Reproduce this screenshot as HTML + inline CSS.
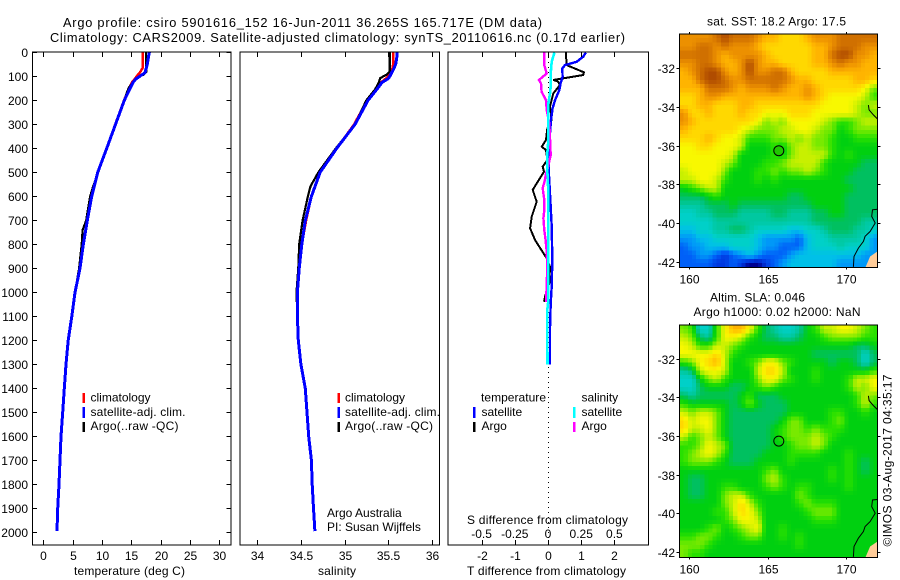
<!DOCTYPE html>
<html>
<head>
<meta charset="utf-8">
<title>Argo profile</title>
<style>
html,body{margin:0;padding:0;background:#fff;}
svg{display:block;}
text{font-family:"Liberation Sans",sans-serif;font-size:12px;fill:#000;}
text.title{font-size:12.8px;}
</style>
</head>
<body>
<svg id="fig" xmlns="http://www.w3.org/2000/svg" width="900" height="580" viewBox="0 0 900 580">
<defs>
<clipPath id="clip-sst"><rect x="679.5" y="34" width="198" height="233.3"/></clipPath>
<clipPath id="clip-sla"><rect x="679.5" y="325" width="198" height="232.3"/></clipPath>
</defs>
<text class="title" x="63" y="27" textLength="479">Argo profile: csiro 5901616_152 16-Jun-2011 36.265S 165.717E (DM data)</text>
<text class="title" x="50" y="42" textLength="575">Climatology: CARS2009. Satellite-adjusted climatology: synTS_20110616.nc (0.17d earlier)</text>

<text x="74" y="575" textLength="111">temperature (deg C)</text>
<text x="318" y="575" textLength="38">salinity</text>
<text x="467" y="575" textLength="159">T difference from climatology</text>
<text x="467" y="524" textLength="161">S difference from climatology</text>

<g>
<rect x="82.5" y="393" width="2.5" height="10" fill="#ff0000"/>
<rect x="82.5" y="407" width="2.5" height="11" fill="#0000ff"/>
<rect x="82.5" y="422" width="2.5" height="10" fill="#000"/>
<text x="90.5" y="401.5">climatology</text>
<text x="90.5" y="416" textLength="95">satellite-adj. clim.</text>
<text x="90.5" y="430" textLength="88">Argo(..raw -QC)</text>
</g>
<g>
<rect x="337.5" y="393" width="2.5" height="10" fill="#ff0000"/>
<rect x="337.5" y="407" width="2.5" height="11" fill="#0000ff"/>
<rect x="337.5" y="422" width="2.5" height="10" fill="#000"/>
<text x="345" y="401.5">climatology</text>
<text x="345" y="416" textLength="95">satellite-adj. clim.</text>
<text x="345" y="430" textLength="88">Argo(..raw -QC)</text>
<text x="327" y="517">Argo Australia</text>
<text x="327" y="531">PI: Susan Wijffels</text>
</g>
<g>
<text x="481" y="401.5" textLength="65">temperature</text>
<text x="581.5" y="401.5">salinity</text>
<rect x="473" y="407" width="2.5" height="11" fill="#0000ff"/>
<rect x="473" y="422" width="2.5" height="10" fill="#000"/>
<rect x="573" y="407" width="2.5" height="11" fill="#00ffff"/>
<rect x="573" y="422" width="2.5" height="10" fill="#ff00ff"/>
<text x="481.5" y="416">satellite</text>
<text x="481.5" y="430">Argo</text>
<text x="581.5" y="416">satellite</text>
<text x="581.5" y="430">Argo</text>
</g>

<text x="707" y="25.5" textLength="139">sat. SST: 18.2 Argo: 17.5</text>
<text x="710" y="301.5" textLength="95">Altim. SLA: 0.046</text>
<text x="693.5" y="316" textLength="167">Argo h1000: 0.02 h2000: NaN</text>
<text transform="translate(891.5 546.5) rotate(-90)" textLength="172">©IMOS 03-Aug-2017 04:35:17</text>
</svg>
<script>
/* ---------- profile data ---------- */
const tempDepths = [0,20,45,65,85,100,110,125,150,200,300,400,500,600,700,800,900,1000,1100,1200,1300,1400,1500,1600,1700,1800,1900,1995];
const tempClim = [16.93,16.93,16.93,16.93,16.4,15.9,15.6,15.1,14.6,13.75,12.25,10.8,9.3,8.28,7.48,6.8,6.22,5.38,4.82,4.23,3.85,3.56,3.29,3.01,2.84,2.66,2.44,2.32];
const tempSat = [18.06,17.9,17.75,17.55,17.3,16.4,15.8,15.3,14.77,13.8,12.3,10.8,9.26,8.24,7.5,6.82,6.25,5.4,4.85,4.25,3.87,3.58,3.3,3.02,2.85,2.67,2.45,2.33];
const argoTempDepths = [0,40,80,93,103,120,150,200,300,400,500,558,600,700,740,800,900,1000,1040];
const argoTemp = [17.5,17.5,17.6,17.1,16.05,15.4,14.5,13.8,12.3,10.8,9.35,8.5,7.97,7.3,6.7,6.55,6.1,5.4,5.2];

const salClim = [35.56,35.56,35.56,35.55,35.53,35.5,35.47,35.42,35.37,35.26,35.11,34.91,34.72,34.62,34.56,34.51,34.48,34.46,34.46,34.47,34.5,34.55,34.57,34.59,34.62,34.63,34.645,34.66];
const salSat = [35.6,35.6,35.59,35.57,35.54,35.52,35.5,35.43,35.38,35.27,35.12,34.91,34.72,34.62,34.55,34.51,34.48,34.46,34.46,34.47,34.5,34.55,34.57,34.59,34.62,34.63,34.645,34.66];
const argoSalDepths = [0,40,80,93,107,128,155,200,300,400,500,558,600,700,800,900,1000,1040];
const argoSal = [35.52,35.52,35.52,35.48,35.41,35.39,35.35,35.25,35.12,34.9,34.7,34.61,34.58,34.52,34.48,34.47,34.45,34.45];

const diffTArgoDepths = [1,53,83,94,115,122,136,171,226,282,317,365,393,407,428,449,476,497,546,573,622,684,733,782,858,893,962,1018,1039];
const diffTArgo = [.54,.56,1.08,1.06,.16,.31,.36,.16,.06,.11,-.02,-.06,-.19,-.06,-.04,-.02,-.16,-.12,-.34,-.46,-.34,-.49,-.54,-.39,-.04,.06,.04,-.09,-.12];
const diffTSatDepths = [1,18,39,53,67,101,129,157,199,233,282,337,407,490,643,726,865,976,1045,1150,1300];
const diffTSat = [1.14,1.06,.86,.51,.43,.44,.38,.34,.21,.14,.09,.06,.02,.02,.08,.11,.13,.11,.08,.06,.06];
const diffSArgoDepths = [1,53,88,115,129,164,199,240,296,358,428,490,504,532,566,615,657,691,740,782,830,893,969,1039];
const diffSArgo = [-.028,-.028,-.01,-.068,-.053,-.048,-.015,-.01,.01,.015,.02,-.005,-.015,-.023,-.04,-.028,-.028,-.035,-.028,-.018,-.01,-.005,-.01,-.015];
const diffSSatDepths = [1,39,88,143,171,212,365,421,490,587,865,1032,1073,1300];
const diffSSat = [.048,.028,.02,.02,.015,.003,.003,-.005,-.005,.003,.003,.003,-.005,-.004];

/* ---------- tick labels ---------- */
const depthTicks = [0,100,200,300,400,500,600,700,800,900,1000,1100,1200,1300,1400,1500,1600,1700,1800,1900,2000];
const tempTicks = [0,5,10,15,20,25,30];
const salTicks = [34,34.5,35,35.5,36];
const salTickLabels = ["34","34.5","35","35.5","36"];
const tDiffTicks = [-2,-1,0,1,2];
const sDiffTicks = [-0.5,-0.25,0,0.25,0.5];
const sDiffTickLabels = ["-0.5","-0.25","0","0.25","0.5"];
const lonTicks = [160,165,170];
const latTicks = [-32,-34,-36,-38,-40,-42];

/* ---------- map data (colour level per grid cell) ---------- */
const mapLevels = ["#000090","#0038e0","#0060f8","#0098f8","#00c0e8","#00d0c8","#00c8a0","#00c060","#00d010","#28e000","#78ea00","#c8f000","#f8f800","#ffd800","#ffb400","#ec9000","#d07000","#b04c00","#a00000"];
const sstRows = [
[15,15,15,15,16,17,16,16,16,15,14,14,13,13,13,14,15,15,15,16,16,16,16,16],
[15,15,16,16,15,16,15,15,15,14,13,13,13,13,13,13,14,14,15,16,16,16,15,15],
[16,16,16,16,15,14,15,15,15,15,14,13,13,13,13,13,14,14,16,17,17,15,15,14],
[15,15,16,16,15,14,14,15,17,15,14,14,13,13,13,13,14,14,15,16,15,15,14,14],
[14,15,16,17,17,15,14,15,17,15,15,16,16,14,13,13,13,13,14,14,14,14,14,14],
[14,14,16,17,17,16,15,15,16,16,16,16,16,15,14,14,13,13,13,13,13,14,14,13],
[14,14,14,16,16,16,15,14,15,15,15,16,15,14,14,15,14,13,13,13,13,13,12,10],
[13,13,14,15,15,14,14,14,14,14,14,14,14,14,14,15,14,13,12,12,12,12,11,9],
[13,13,14,14,13,13,13,14,14,13,13,13,13,13,13,13,13,12,12,12,12,11,10,11],
[15,13,13,14,13,13,13,14,13,13,12,12,12,13,13,13,12,12,12,12,12,11,10,10],
[15,14,13,13,13,13,13,13,13,12,10,11,10,12,12,12,12,11,10,9,9,10,11,11],
[14,13,13,13,13,13,13,12,11,10,10,10,11,11,12,12,11,10,10,8,9,10,10,10],
[13,13,13,14,13,12,12,11,9,9,9,10,10,11,10,11,10,10,9,8,8,9,9,9],
[12,12,13,13,12,12,12,11,8,8,8,9,8,10,11,11,10,10,9,8,8,8,8,8],
[12,12,12,12,12,12,11,8,8,8,8,9,8,10,11,11,11,11,9,8,9,8,8,8],
[12,12,12,12,12,11,10,8,8,8,9,9,10,11,11,11,11,9,8,8,8,8,7,7],
[11,12,12,12,12,10,8,8,8,9,9,10,9,10,10,11,10,9,8,8,8,7,7,7],
[11,11,12,12,11,9,8,8,8,9,8,9,8,8,8,8,8,8,8,8,7,7,7,7],
[8,9,10,11,11,8,8,8,8,8,8,8,8,8,8,8,8,8,8,8,8,7,7,7],
[7,7,7,8,9,8,8,8,8,8,8,8,8,7,7,8,8,8,8,8,7,7,7,7],
[6,6,6,7,7,7,8,7,7,7,7,7,7,7,7,7,8,8,8,8,7,7,7,7],
[5,5,6,6,7,7,7,6,6,6,6,7,7,6,6,6,7,7,8,8,7,7,7,7],
[5,5,5,5,6,6,6,6,6,6,6,6,6,6,6,6,7,7,7,7,7,7,6,6],
[4,4,5,5,6,6,7,7,6,5,5,5,5,4,4,5,5,6,7,7,7,6,6,5],
[3,3,4,4,5,5,5,5,5,4,3,3,3,3,2,4,5,5,6,6,6,6,5,3],
[2,3,3,4,4,4,5,5,5,4,3,3,2,2,2,4,5,5,5,6,5,5,5,3],
[2,2,3,3,2,1,2,3,4,3,2,2,2,3,4,4,4,4,4,4,4,4,3,3],
[2,2,2,2,1,1,2,1,0,0,1,2,3,4,4,4,4,4,4,3,3,3,3,3]
];
const slaRows = [
[10,9,5,5,9,12,14,14,12,9,7,6,5,5,6,8,9,11,11,12,12,11,10,9],
[11,10,7,6,9,12,12,11,9,8,7,7,6,6,7,8,8,9,10,10,10,10,9,9],
[12,11,9,9,11,11,10,9,8,8,8,8,8,8,8,8,8,8,8,8,8,7,7,8],
[12,12,12,12,13,11,9,8,8,8,8,8,8,8,8,8,7,7,7,7,7,7,5,7],
[9,10,12,13,14,11,8,8,9,10,12,12,10,9,8,8,8,8,7,8,8,7,5,7],
[6,7,11,12,12,11,8,8,8,11,13,13,11,8,8,8,9,8,8,8,8,8,8,9],
[5,5,8,10,11,9,8,8,8,10,12,12,10,9,8,8,9,8,8,8,9,11,11,12],
[5,5,7,8,8,8,7,7,8,9,10,9,8,8,8,8,8,8,8,8,9,11,10,12],
[7,6,7,7,7,7,7,8,9,7,7,7,8,8,8,8,8,8,8,8,8,9,11,10],
[9,8,8,8,8,8,7,8,10,8,7,7,7,8,8,8,8,8,8,8,8,9,11,9],
[11,10,11,11,10,8,7,7,7,7,7,7,7,8,8,8,8,8,9,9,8,8,9,8],
[13,11,12,12,10,8,7,7,7,7,7,7,8,10,10,8,8,8,9,10,8,8,8,8],
[13,11,11,12,10,8,7,7,7,7,7,8,9,10,10,9,10,9,9,9,8,8,8,8],
[11,9,10,11,10,8,7,7,7,7,7,8,9,10,10,10,11,10,9,8,8,8,8,8],
[9,9,10,12,11,10,7,7,7,7,7,8,8,9,10,10,11,10,8,8,8,8,8,8],
[9,10,11,12,11,9,7,7,7,7,8,8,8,9,9,9,9,8,8,8,9,8,8,8],
[9,10,10,10,9,8,7,7,7,8,8,8,8,9,8,8,8,8,8,8,9,8,7,8],
[8,8,8,8,8,8,8,8,8,8,9,10,8,8,8,8,8,8,9,8,9,8,7,8],
[8,7,7,8,8,8,8,8,8,8,10,11,9,8,8,8,8,8,9,8,9,8,8,8],
[8,7,7,8,8,9,9,8,8,8,9,10,9,8,9,9,8,8,8,8,9,8,8,8],
[8,7,7,8,8,10,11,11,9,8,8,8,8,8,10,9,8,8,8,8,8,8,8,8],
[8,8,8,8,8,10,11,13,11,9,8,8,8,8,9,10,9,9,9,8,8,8,8,8],
[8,8,8,8,9,9,11,13,12,10,8,8,8,8,8,9,10,10,10,8,8,8,8,8],
[8,8,8,8,8,9,10,12,12,11,8,8,8,8,8,8,9,9,9,8,8,8,8,8],
[8,8,8,9,10,8,9,10,11,12,8,8,9,8,8,8,8,8,8,8,8,8,8,8],
[9,9,10,10,9,8,8,9,10,10,8,8,9,8,9,8,8,8,8,8,8,8,8,8],
[10,10,10,9,8,8,8,8,8,8,8,8,8,8,9,8,8,8,8,8,8,8,8,8],
[10,9,9,8,8,8,8,8,8,8,8,8,8,8,8,8,8,8,8,8,8,8,8,8]
];
const coastWestLon = [170.49,170.53,170.81,171.13,171.24,171.56,171.88,171.66,171.71,172.03];
const coastWestLat = [-42.27,-41.73,-41.30,-40.95,-40.69,-40.44,-40.0,-39.66,-39.32,-39.29];
const coastNorthLon = [171.45,171.49,171.77,172.03];
const coastNorthLat = [-33.91,-34.16,-34.42,-34.63];
const landLon = [171.26,171.56,172.03,172.03];
const landLat = [-42.29,-41.73,-41.47,-42.29];
const argoLon = 165.717;
const argoLat = -36.265;

/* ---------- helpers ---------- */
const svg = document.getElementById('fig');
const NS = 'http://www.w3.org/2000/svg';
function mk(tag, attrs, parent) {
  const el = document.createElementNS(NS, tag);
  for (const k in attrs) el.setAttribute(k, attrs[k]);
  (parent || svg).appendChild(el);
  return el;
}
const yD = d => 52.4 + 0.24 * d;
const xTemp = t => 43.3 + 5.87 * t;
const xSal = s => 257.3 + 87.2 * (s - 34);
const xDT = t => 548 + 33.2 * t;
const xDS = s => 548 + 132.8 * s;

function profile(name, depths, vals, xf, color, width, parent) {
  const pts = vals.map((v, i) => xf(v).toFixed(1) + ',' + yD(depths[i]).toFixed(1)).join(' ');
  const el = mk('polyline', {points: pts, fill: 'none', stroke: color, 'stroke-width': width, 'stroke-linejoin': 'miter', 'shape-rendering': 'crispEdges'}, parent);
  
  
}
function line(x1, y1, x2, y2, parent) {
  const el = mk('line', {x1, y1, x2, y2, stroke: '#000', 'stroke-width': 1, 'shape-rendering': 'crispEdges'}, parent);
  
  
}
function label(txt, x, y, anchor, parent) {
  const el = mk('text', {x, y, 'text-anchor': anchor}, parent);
  el.textContent = txt;
  
  
}
function frame(name, x, y, w, h) {
  const el = mk('rect', {x, y, width: w, height: h, fill: 'none', stroke: '#000', 'stroke-width': 1, 'shape-rendering': 'crispEdges'});
  
  
}
function hexRgb(h) {
  return [parseInt(h.slice(1, 3), 16), parseInt(h.slice(3, 5), 16), parseInt(h.slice(5, 7), 16)];
}
function levelColor(v) {
  const c = Math.max(0, Math.min(mapLevels.length - 1, v));
  const a = Math.floor(c), b = Math.min(mapLevels.length - 1, a + 1), t = c - a;
  const ca = hexRgb(mapLevels[a]), cb = hexRgb(mapLevels[b]);
  return 'rgb(' + ca.map((x, i) => Math.round(x + (cb[i] - x) * t)).join(',') + ')';
}

/* ---------- temperature panel ---------- */
const TOP = 52, BOT = 545;
const p1 = mk('g', {});


profile('temperature-climatology-line', tempDepths, tempClim, xTemp, '#ff0000', 2.5, p1);
profile('temperature-argo-line', argoTempDepths, argoTemp, xTemp, '#000', 2.2, p1);
profile('temperature-satellite-line', tempDepths, tempSat, xTemp, '#0000ff', 3, p1);
frame('temperature-panel-frame', 32.5, TOP, 198.5, BOT - TOP);
depthTicks.forEach(d => {
  const y = Math.round(yD(d)) + 0.5;
  line(32.5, y, 37, y, p1);
  line(226.5, y, 231, y, p1);
  label(String(d), 28, y + 4.5, 'end', p1);
});
tempTicks.forEach(t => {
  const x = Math.round(xTemp(t)) + 0.5;
  line(x, TOP, x, TOP + 5, p1);
  line(x, BOT - 5, x, BOT, p1);
  label(String(t), x, 560, 'middle', p1);
});

/* ---------- salinity panel ---------- */
const p2 = mk('g', {});


profile('salinity-climatology-line', tempDepths, salClim, xSal, '#ff0000', 2.5, p2);
profile('salinity-argo-line', argoSalDepths, argoSal, xSal, '#000', 2.2, p2);
profile('salinity-satellite-line', tempDepths, salSat, xSal, '#0000ff', 3, p2);
frame('salinity-panel-frame', 240, TOP, 199.5, BOT - TOP);
salTicks.forEach((s, i) => {
  const x = Math.round(xSal(s)) + 0.5;
  line(x, TOP, x, TOP + 5, p2);
  line(x, BOT - 5, x, BOT, p2);
  label(salTickLabels[i], x, 560, 'middle', p2);
});

/* ---------- difference panel ---------- */
const p3 = mk('g', {});


const zero = mk('line', {x1: 548.5, y1: TOP, x2: 548.5, y2: BOT, stroke: '#000', 'stroke-width': 1, 'stroke-dasharray': '1 4', 'shape-rendering': 'crispEdges'}, p3);


profile('t-difference-argo-line', diffTArgoDepths, diffTArgo, xDT, '#000', 2, p3);
profile('t-difference-satellite-line', diffTSatDepths, diffTSat, xDT, '#0000ff', 2.4, p3);
profile('s-difference-argo-line', diffSArgoDepths, diffSArgo, xDS, '#ff00ff', 2.4, p3);
profile('s-difference-satellite-line', diffSSatDepths, diffSSat, xDS, '#00ffff', 2.6, p3);
frame('difference-panel-frame', 448, TOP, 200.5, BOT - TOP);
tDiffTicks.forEach(t => {
  const x = Math.round(xDT(t)) + 0.5;
  line(x, TOP, x, TOP + 5, p3);
  line(x, BOT - 5, x, BOT, p3);
  label(String(t), x, 560, 'middle', p3);
});
sDiffTicks.forEach((s, i) => {
  label(sDiffTickLabels[i], xDS(s), 538, 'middle', p3);
});

/* ---------- maps ---------- */
function drawMap(name, rows, clipId, top, bottom, filled) {
  const left = 679.5, right = 877.5;
  const lonL = 159.37, lonR = 172.03, latT = -30.24, latB = -42.29;
  const xLon = v => left + (v - lonL) / (lonR - lonL) * (right - left);
  const yLat = v => top + (v - latT) / (latB - latT) * (bottom - top);
  const g = mk('g', {});
  
  
  const cells = mk('g', {'shape-rendering': 'crispEdges', 'clip-path': 'url(#' + clipId + ')'}, g);
  const nr = rows.length, nc = rows[0].length;
  const cw = (right - left) / nc / 2, ch = (bottom - top) / nr / 2;
  const at = (r, c) => {
    const row = rows[Math.max(0, Math.min(nr - 1, r))];
    return row[Math.max(0, Math.min(row.length - 1, c))];
  };
  for (let j = 0; j < nr * 2; j++) {
    for (let i = 0; i < nc * 2; i++) {
      const fy = (j - 0.5) / 2, fx = (i - 0.5) / 2;
      const r0 = Math.floor(fy), c0 = Math.floor(fx);
      const ty = fy - r0, tx = fx - c0;
      const v = at(r0, c0) * (1 - tx) * (1 - ty) + at(r0, c0 + 1) * tx * (1 - ty) + at(r0 + 1, c0) * (1 - tx) * ty + at(r0 + 1, c0 + 1) * tx * ty;
      const cell = mk('rect', {x: (left + i * cw).toFixed(2), y: (top + j * ch).toFixed(2), width: (cw + 0.5).toFixed(2), height: (ch + 0.5).toFixed(2), fill: levelColor(v)}, cells);
      
      
    }
  }
  const land = mk('polygon', {points: landLon.map((v, i) => xLon(v).toFixed(1) + ',' + yLat(landLat[i]).toFixed(1)).join(' '), fill: '#ffcc99', 'clip-path': 'url(#' + clipId + ')'}, g);
  
  
  const cw1 = mk('polyline', {points: coastWestLon.map((v, i) => xLon(v).toFixed(1) + ',' + yLat(coastWestLat[i]).toFixed(1)).join(' '), fill: 'none', stroke: '#000', 'stroke-width': 1, 'clip-path': 'url(#' + clipId + ')'}, g);
  
  
  const cw2 = mk('polyline', {points: coastNorthLon.map((v, i) => xLon(v).toFixed(1) + ',' + yLat(coastNorthLat[i]).toFixed(1)).join(' '), fill: 'none', stroke: '#000', 'stroke-width': 1, 'clip-path': 'url(#' + clipId + ')'}, g);
  
  
  const marker = mk('circle', {cx: xLon(argoLon).toFixed(1), cy: yLat(argoLat).toFixed(1), r: 5, fill: filled, stroke: '#000', 'stroke-width': 1}, g);
  
  
  frame(name + '-frame', left, top, right - left, bottom - top);
  lonTicks.forEach(v => {
    const x = Math.round(xLon(v)) + 0.5;
    line(x, top - 2, x, top, g);
    line(x, bottom, x, bottom + 2, g);
    label(String(v), x, bottom + 16, 'middle', g);
  });
  latTicks.forEach(v => {
    const y = Math.round(yLat(v)) + 0.5;
    line(left - 3, y, left, y, g);
    line(right, y, right + 3, y, g);
    label(String(v), 675, y + 4.5, 'end', g);
  });
}
drawMap('sst-map', sstRows, 'clip-sst', 34, 267.3, '#20c800');
drawMap('sla-map', slaRows, 'clip-sla', 325, 557.3, 'none');
</script>
</body>
</html>
